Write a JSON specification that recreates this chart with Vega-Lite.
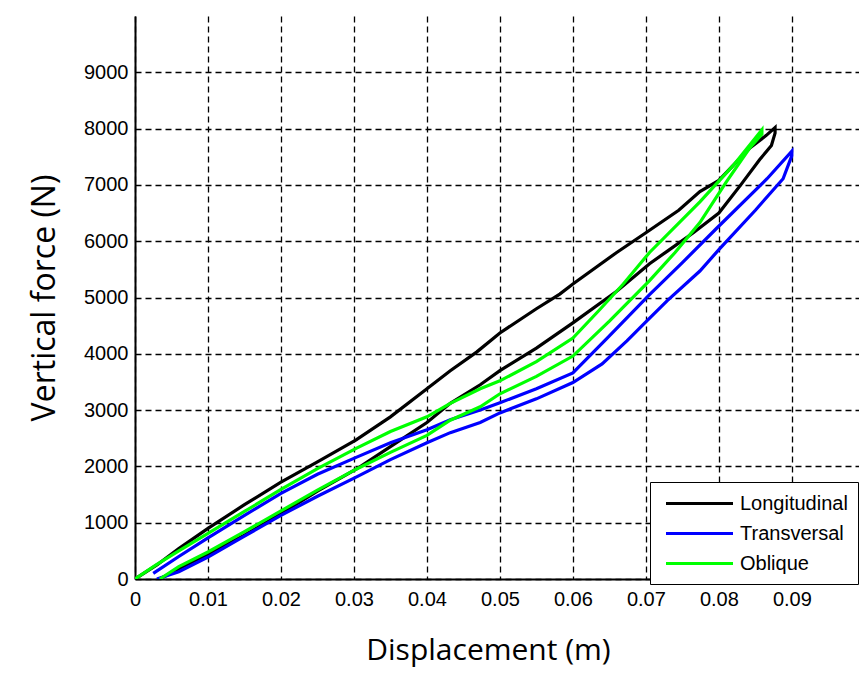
{
  "$schema": "https://vega.github.io/schema/vega-lite/v6.json",
  "autosize": {"type": "none"},
  "padding": {"left": 135, "top": 16, "right": 0, "bottom": 94},
  "width": 724,
  "height": 563,
  "background": "white",
  "config": {
    "view": {"stroke": null},
    "axis": {
      "labelFont": "Liberation Sans",
      "labelFontSize": 20,
      "labelColor": "#000",
      "titleFont": "Open Sans",
      "titleFontWeight": "normal",
      "titleColor": "#000",
      "domainColor": "#000",
      "domainWidth": 2,
      "ticks": false,
      "grid": true,
      "gridColor": "#000",
      "gridDash": [6, 4],
      "gridWidth": 1.3,
      "gridOpacity": 1
    },
    "legend": {
      "labelFont": "Liberation Sans",
      "labelFontSize": 20,
      "labelColor": "#000"
    }
  },
  "data": {
    "values": [
      {"series": "Longitudinal", "i": 0, "x": 0, "y": 0},
      {"series": "Longitudinal", "i": 1, "x": 0.003, "y": 250},
      {"series": "Longitudinal", "i": 2, "x": 0.006, "y": 540},
      {"series": "Longitudinal", "i": 3, "x": 0.01, "y": 900},
      {"series": "Longitudinal", "i": 4, "x": 0.015, "y": 1320},
      {"series": "Longitudinal", "i": 5, "x": 0.02, "y": 1720},
      {"series": "Longitudinal", "i": 6, "x": 0.025, "y": 2080},
      {"series": "Longitudinal", "i": 7, "x": 0.0303, "y": 2470},
      {"series": "Longitudinal", "i": 8, "x": 0.035, "y": 2880},
      {"series": "Longitudinal", "i": 9, "x": 0.04, "y": 3380},
      {"series": "Longitudinal", "i": 10, "x": 0.0432, "y": 3700},
      {"series": "Longitudinal", "i": 11, "x": 0.0468, "y": 4030},
      {"series": "Longitudinal", "i": 12, "x": 0.05, "y": 4370},
      {"series": "Longitudinal", "i": 13, "x": 0.055, "y": 4800},
      {"series": "Longitudinal", "i": 14, "x": 0.0582, "y": 5060},
      {"series": "Longitudinal", "i": 15, "x": 0.06, "y": 5240},
      {"series": "Longitudinal", "i": 16, "x": 0.066, "y": 5800},
      {"series": "Longitudinal", "i": 17, "x": 0.07, "y": 6150},
      {"series": "Longitudinal", "i": 18, "x": 0.0745, "y": 6550},
      {"series": "Longitudinal", "i": 19, "x": 0.0774, "y": 6880},
      {"series": "Longitudinal", "i": 20, "x": 0.08, "y": 7080},
      {"series": "Longitudinal", "i": 21, "x": 0.0842, "y": 7650},
      {"series": "Longitudinal", "i": 22, "x": 0.0865, "y": 7880},
      {"series": "Longitudinal", "i": 23, "x": 0.0877, "y": 8020},
      {"series": "Longitudinal", "i": 24, "x": 0.0877, "y": 7920},
      {"series": "Longitudinal", "i": 25, "x": 0.0872, "y": 7700},
      {"series": "Longitudinal", "i": 26, "x": 0.0856, "y": 7450},
      {"series": "Longitudinal", "i": 27, "x": 0.083, "y": 7000},
      {"series": "Longitudinal", "i": 28, "x": 0.08, "y": 6500},
      {"series": "Longitudinal", "i": 29, "x": 0.0765, "y": 6150},
      {"series": "Longitudinal", "i": 30, "x": 0.0729, "y": 5820},
      {"series": "Longitudinal", "i": 31, "x": 0.0705, "y": 5600},
      {"series": "Longitudinal", "i": 32, "x": 0.066, "y": 5110},
      {"series": "Longitudinal", "i": 33, "x": 0.06, "y": 4550},
      {"series": "Longitudinal", "i": 34, "x": 0.055, "y": 4100},
      {"series": "Longitudinal", "i": 35, "x": 0.05, "y": 3700},
      {"series": "Longitudinal", "i": 36, "x": 0.0473, "y": 3450},
      {"series": "Longitudinal", "i": 37, "x": 0.0432, "y": 3120},
      {"series": "Longitudinal", "i": 38, "x": 0.04, "y": 2780},
      {"series": "Longitudinal", "i": 39, "x": 0.035, "y": 2350},
      {"series": "Longitudinal", "i": 40, "x": 0.0303, "y": 1950},
      {"series": "Longitudinal", "i": 41, "x": 0.025, "y": 1560},
      {"series": "Longitudinal", "i": 42, "x": 0.02, "y": 1160},
      {"series": "Longitudinal", "i": 43, "x": 0.015, "y": 780},
      {"series": "Longitudinal", "i": 44, "x": 0.01, "y": 440},
      {"series": "Longitudinal", "i": 45, "x": 0.006, "y": 180},
      {"series": "Longitudinal", "i": 46, "x": 0.0034, "y": 0},

      {"series": "Transversal", "i": 0, "x": 0.0025, "y": 100},
      {"series": "Transversal", "i": 1, "x": 0.006, "y": 400},
      {"series": "Transversal", "i": 2, "x": 0.01, "y": 730},
      {"series": "Transversal", "i": 3, "x": 0.015, "y": 1130},
      {"series": "Transversal", "i": 4, "x": 0.02, "y": 1520},
      {"series": "Transversal", "i": 5, "x": 0.025, "y": 1860},
      {"series": "Transversal", "i": 6, "x": 0.0303, "y": 2160},
      {"series": "Transversal", "i": 7, "x": 0.035, "y": 2420},
      {"series": "Transversal", "i": 8, "x": 0.04, "y": 2650},
      {"series": "Transversal", "i": 9, "x": 0.0432, "y": 2830},
      {"series": "Transversal", "i": 10, "x": 0.0473, "y": 3000},
      {"series": "Transversal", "i": 11, "x": 0.05, "y": 3130},
      {"series": "Transversal", "i": 12, "x": 0.055, "y": 3380},
      {"series": "Transversal", "i": 13, "x": 0.06, "y": 3660},
      {"series": "Transversal", "i": 14, "x": 0.0647, "y": 4280},
      {"series": "Transversal", "i": 15, "x": 0.0705, "y": 5050},
      {"series": "Transversal", "i": 16, "x": 0.075, "y": 5620},
      {"series": "Transversal", "i": 17, "x": 0.0797, "y": 6230},
      {"series": "Transversal", "i": 18, "x": 0.0866, "y": 7110},
      {"series": "Transversal", "i": 19, "x": 0.09, "y": 7600},
      {"series": "Transversal", "i": 20, "x": 0.09, "y": 7520},
      {"series": "Transversal", "i": 21, "x": 0.0888, "y": 7110},
      {"series": "Transversal", "i": 22, "x": 0.085, "y": 6550},
      {"series": "Transversal", "i": 23, "x": 0.08, "y": 5850},
      {"series": "Transversal", "i": 24, "x": 0.0774, "y": 5470},
      {"series": "Transversal", "i": 25, "x": 0.0729, "y": 4940},
      {"series": "Transversal", "i": 26, "x": 0.0701, "y": 4580},
      {"series": "Transversal", "i": 27, "x": 0.0674, "y": 4230},
      {"series": "Transversal", "i": 28, "x": 0.064, "y": 3820},
      {"series": "Transversal", "i": 29, "x": 0.06, "y": 3490},
      {"series": "Transversal", "i": 30, "x": 0.055, "y": 3200},
      {"series": "Transversal", "i": 31, "x": 0.05, "y": 2950},
      {"series": "Transversal", "i": 32, "x": 0.0473, "y": 2780},
      {"series": "Transversal", "i": 33, "x": 0.0432, "y": 2600},
      {"series": "Transversal", "i": 34, "x": 0.04, "y": 2420},
      {"series": "Transversal", "i": 35, "x": 0.035, "y": 2120},
      {"series": "Transversal", "i": 36, "x": 0.0303, "y": 1810},
      {"series": "Transversal", "i": 37, "x": 0.025, "y": 1470},
      {"series": "Transversal", "i": 38, "x": 0.02, "y": 1130},
      {"series": "Transversal", "i": 39, "x": 0.015, "y": 760},
      {"series": "Transversal", "i": 40, "x": 0.01, "y": 390},
      {"series": "Transversal", "i": 41, "x": 0.006, "y": 130},
      {"series": "Transversal", "i": 42, "x": 0.003, "y": 0},

      {"series": "Oblique", "i": 0, "x": 0, "y": 0},
      {"series": "Oblique", "i": 1, "x": 0.003, "y": 260},
      {"series": "Oblique", "i": 2, "x": 0.006, "y": 500},
      {"series": "Oblique", "i": 3, "x": 0.01, "y": 810},
      {"series": "Oblique", "i": 4, "x": 0.015, "y": 1200},
      {"series": "Oblique", "i": 5, "x": 0.02, "y": 1590},
      {"series": "Oblique", "i": 6, "x": 0.025, "y": 1960},
      {"series": "Oblique", "i": 7, "x": 0.0303, "y": 2320},
      {"series": "Oblique", "i": 8, "x": 0.035, "y": 2620},
      {"series": "Oblique", "i": 9, "x": 0.04, "y": 2880},
      {"series": "Oblique", "i": 10, "x": 0.0432, "y": 3120},
      {"series": "Oblique", "i": 11, "x": 0.0473, "y": 3380},
      {"series": "Oblique", "i": 12, "x": 0.05, "y": 3520},
      {"series": "Oblique", "i": 13, "x": 0.055, "y": 3860},
      {"series": "Oblique", "i": 14, "x": 0.06, "y": 4280},
      {"series": "Oblique", "i": 15, "x": 0.0635, "y": 4760},
      {"series": "Oblique", "i": 16, "x": 0.0669, "y": 5240},
      {"series": "Oblique", "i": 17, "x": 0.0705, "y": 5800},
      {"series": "Oblique", "i": 18, "x": 0.0774, "y": 6700},
      {"series": "Oblique", "i": 19, "x": 0.082, "y": 7350},
      {"series": "Oblique", "i": 20, "x": 0.0859, "y": 7980},
      {"series": "Oblique", "i": 21, "x": 0.0859, "y": 7900},
      {"series": "Oblique", "i": 22, "x": 0.0842, "y": 7650},
      {"series": "Oblique", "i": 23, "x": 0.081, "y": 7050},
      {"series": "Oblique", "i": 24, "x": 0.0774, "y": 6330},
      {"series": "Oblique", "i": 25, "x": 0.074, "y": 5800},
      {"series": "Oblique", "i": 26, "x": 0.0705, "y": 5300},
      {"series": "Oblique", "i": 27, "x": 0.065, "y": 4580},
      {"series": "Oblique", "i": 28, "x": 0.06, "y": 3960},
      {"series": "Oblique", "i": 29, "x": 0.055, "y": 3600},
      {"series": "Oblique", "i": 30, "x": 0.05, "y": 3290},
      {"series": "Oblique", "i": 31, "x": 0.0473, "y": 3060},
      {"series": "Oblique", "i": 32, "x": 0.0432, "y": 2820},
      {"series": "Oblique", "i": 33, "x": 0.04, "y": 2550},
      {"series": "Oblique", "i": 34, "x": 0.035, "y": 2250},
      {"series": "Oblique", "i": 35, "x": 0.0303, "y": 1950},
      {"series": "Oblique", "i": 36, "x": 0.025, "y": 1580},
      {"series": "Oblique", "i": 37, "x": 0.02, "y": 1210},
      {"series": "Oblique", "i": 38, "x": 0.015, "y": 840},
      {"series": "Oblique", "i": 39, "x": 0.01, "y": 480},
      {"series": "Oblique", "i": 40, "x": 0.006, "y": 220},
      {"series": "Oblique", "i": 41, "x": 0.0034, "y": 0}
    ]
  },
  "mark": {"type": "line", "strokeWidth": 3.2, "clip": true},
  "encoding": {
    "x": {
      "field": "x",
      "type": "quantitative",
      "scale": {"domain": [0, 0.0992], "nice": false, "zero": false},
      "axis": {
        "values": [0, 0.01, 0.02, 0.03, 0.04, 0.05, 0.06, 0.07, 0.08, 0.09],
        "format": ".2~f",
        "labelPadding": 10,
        "title": "Displacement (m)",
        "titleFontSize": 30,
        "titlePadding": 26,
        "titleX": 353,
        "labelFlush": false
      }
    },
    "y": {
      "field": "y",
      "type": "quantitative",
      "scale": {"domain": [0, 10000], "nice": false},
      "axis": {
        "values": [0, 1000, 2000, 3000, 4000, 5000, 6000, 7000, 8000, 9000],
        "format": "d",
        "labelPadding": 7,
        "title": "Vertical force (N)",
        "titleFontSize": 32,
        "titlePadding": 22,
        "labelFlush": false
      }
    },
    "color": {
      "field": "series",
      "type": "nominal",
      "scale": {
        "domain": ["Longitudinal", "Transversal", "Oblique"],
        "range": ["#000000", "#0000ff", "#00ff00"]
      },
      "legend": {
        "title": null,
        "orient": "none",
        "legendX": 515,
        "legendY": 466,
        "symbolType": "M-3.35,0H3.35",
        "symbolSize": 400,
        "symbolStrokeWidth": 3,
        "symbolOffset": 28,
        "strokeColor": "#000",
        "fillColor": "#fff",
        "padding": 10,
        "rowPadding": 8,
        "labelOffset": 29
      }
    },
    "order": {"field": "i", "type": "quantitative"}
  }
}
